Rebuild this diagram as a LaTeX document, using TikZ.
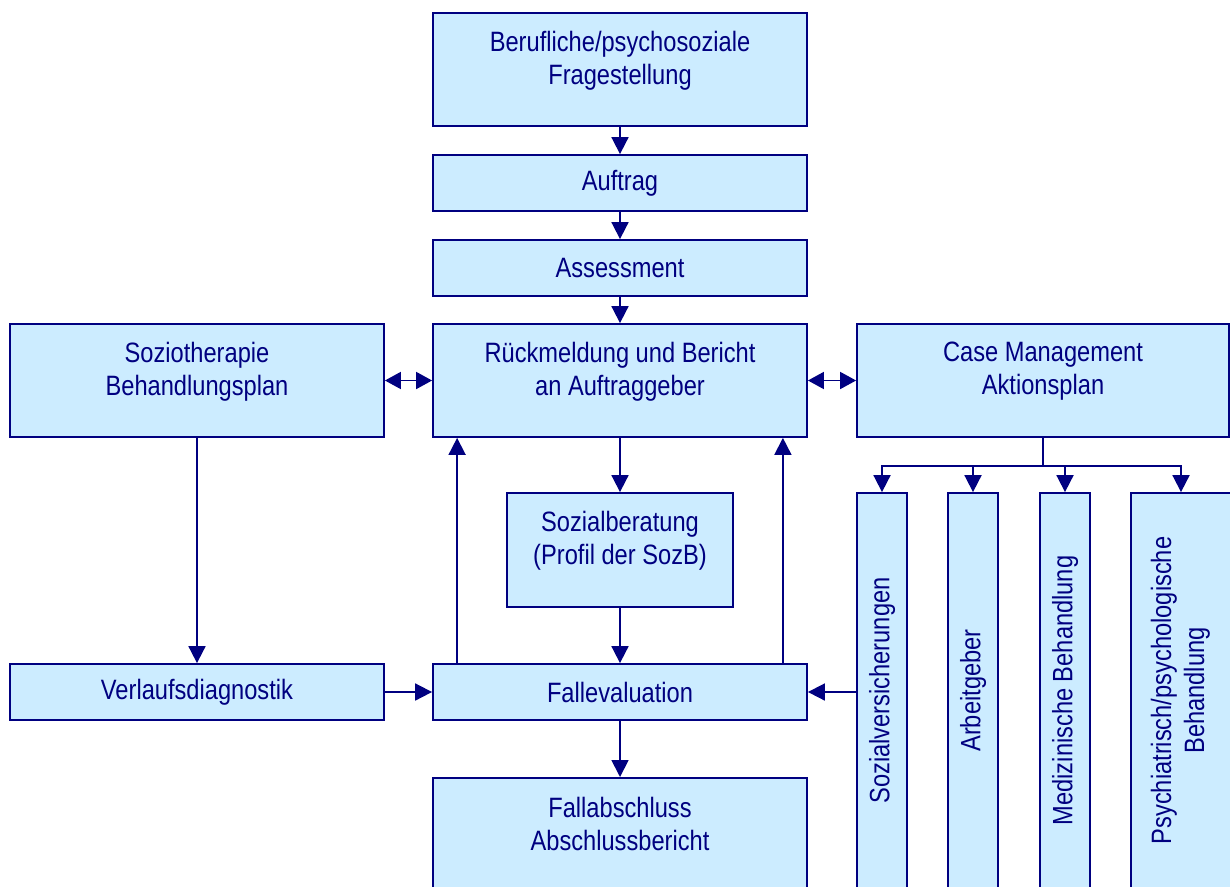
\documentclass[tikz,border=0pt]{standalone}
\usepackage{fontspec}
\setmainfont{Liberation Sans}[FakeStretch=0.845]
\usepackage{tikz}
\usetikzlibrary{arrows.meta,positioning}

\definecolor{boxblue}{HTML}{CCECFF}
\definecolor{navy}{HTML}{000080}

\tikzset{
    box/.style={draw=navy, fill=boxblue, line width=1.8pt, text=navy, align=center,
        inner sep=0pt, font=\fontsize{28}{33}\selectfont},
    twoline/.style={text depth=24pt},
    arr/.style={draw=navy, line width=1.8pt, -{Triangle[length=17pt,width=17pt]}},
    darr/.style={draw=navy, line width=1.8pt, {Triangle[length=16pt,width=17pt]}-{Triangle[length=16pt,width=17pt]}},
    link/.style={draw=navy, line width=1.8pt}
}

\begin{document}
\begin{tikzpicture}[x=1pt, y=-1pt]
        \useasboundingbox (0,0) rectangle (1230,886);
        \fill[white] (0,0) rectangle (1230,886);
        \clip (0,0) rectangle (1230,886);

        \node[box, twoline, minimum width=374, minimum height=113] (frage) at (620,69.5) {Berufliche/psychosoziale\\Fragestellung};
        \node[box, minimum width=374, minimum height=56] (auftrag) at (620,183) {Auftrag};
        \node[box, minimum width=374, minimum height=56] (assess) at (620,268) {Assessment};
        \node[box, twoline, minimum width=374, minimum height=113] (rueck) at (620,380.5) {R\"uckmeldung und Bericht\\an Auftraggeber};
        \node[box, twoline, minimum width=374, minimum height=113] (sozio) at (197,380.5) {Soziotherapie\\Behandlungsplan};
        \node[box, twoline, minimum width=372, minimum height=113] (case) at (1043,380.5) {Case Management\\Aktionsplan};
        \node[box, twoline, minimum width=226, minimum height=114] (sozb) at (620,550) {Sozialberatung\\(Profil der SozB)};
        \node[box, minimum width=374, minimum height=56] (verlauf) at (197,692) {Verlaufsdiagnostik};
        \node[box, minimum width=374, minimum height=56] (falleval) at (620,692) {Fallevaluation};
        \node[box, minimum width=374, minimum height=112, anchor=north] (fallab) at (620,777) {};
        \node[text=navy, align=center, font=\fontsize{28}{33}\selectfont, inner sep=0pt] (fallabtext) at (620,824) {Fallabschluss\\Abschlussbericht};

        \node[box, minimum width=50, minimum height=395] (sozv) at (882,690.5) {\rotatebox{90}{Sozialversicherungen}};
        \node[box, minimum width=50, minimum height=395] (arbeit) at (973,690.5) {\rotatebox{90}{Arbeitgeber}};
        \node[box, minimum width=50, minimum height=395] (mediz) at (1065,690.5) {\rotatebox{90}{Medizinische Behandlung}};
        \node[box, minimum width=100, minimum height=395] (psych) at (1181,690.5) {\rotatebox{90}{\begin{tabular}{@{}c@{}}Psychiatrisch/psychologische\\Behandlung\end{tabular}}};

        \draw[arr] (frage.south) -- (auftrag.north);
        \draw[arr] (auftrag.south) -- (assess.north);
        \draw[arr] (assess.south) -- (rueck.north);
        \draw[arr] (rueck.south) -- (sozb.north);
        \draw[arr] (sozb.south) -- (falleval.north);
        \draw[arr] (falleval.south) -- (fallab.north);

        \draw[darr] (sozio.east) -- (rueck.west);
        \draw[darr] (rueck.east) -- (case.west);

        \draw[arr] (sozio.south) -- (verlauf.north);
        \draw[arr] (verlauf.east) -- (falleval.west);
        \draw[arr] (sozv.west |- falleval.east) -- (falleval.east);

        \draw[arr] ([xshift=25pt]falleval.north west) -- ([xshift=25pt]rueck.south west);
        \draw[arr] ([xshift=-25pt]falleval.north east) -- ([xshift=-25pt]rueck.south east);

        \draw[link] (case.south) -- ++(0,28) coordinate (branch);
        \draw[arr] (branch) -| (sozv.north);
        \draw[arr] (branch) -| (arbeit.north);
        \draw[arr] (branch) -| (mediz.north);
        \draw[arr] (branch) -| (psych.north);
    \end{tikzpicture}
\end{document}
